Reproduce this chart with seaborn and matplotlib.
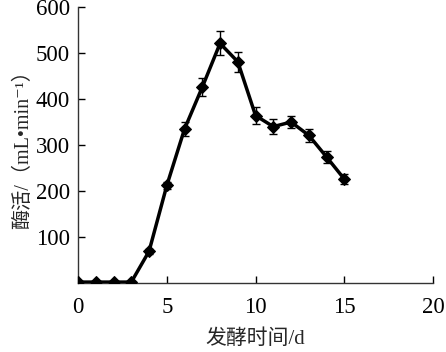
import matplotlib
matplotlib.use("Agg")
import matplotlib.pyplot as plt
import seaborn as sns
import pandas as pd

days = [0, 1, 2, 3, 4, 5, 6, 7, 8, 9, 10, 11, 12, 13, 14, 15]
activity = [2, 2, 2, 2, 69, 212, 335, 426, 521, 481, 364, 340, 350, 321, 274, 226]
errors = [0, 0, 0, 0, 5, 8, 16, 20, 26, 22, 18, 16, 14, 14, 12, 10]
x_ticks = [0, 5, 10, 15, 20]
y_ticks = [100, 200, 300, 400, 500, 600]

sns.set_style("ticks")
plt.rcParams['font.family'] = ['Liberation Serif', 'Noto Sans CJK SC', 'DejaVu Sans']

df = pd.DataFrame({"day": days, "activity": activity, "err": errors})

fig = plt.figure(figsize=(4.46, 3.52), dpi=100)
ax = fig.add_axes([0.175, 0.196, 0.796, 0.784])

ax.errorbar(df["day"], df["activity"], yerr=df["err"], fmt="none",
            ecolor="black", elinewidth=1.0, capsize=3, capthick=1.0, zorder=3)
sns.lineplot(data=df, x="day", y="activity", ax=ax, color="black",
             linewidth=2.5, marker="D", markersize=6.5, markeredgecolor="black",
             zorder=4)

ax.set_xlim(0, 20)
ax.set_ylim(0, 600)
ax.set_xticks(x_ticks)
ax.set_yticks(y_ticks)
ax.tick_params(direction="in", length=5, width=1, labelsize=16.5, colors="black")
ax.tick_params(axis="x", pad=10)
ax.tick_params(axis="y", pad=6)
for s in ["top", "right"]:
    ax.spines[s].set_visible(False)
for s in ["left", "bottom"]:
    ax.spines[s].set_color("#333333")
    ax.spines[s].set_linewidth(1.0)

ax.set_xlabel("发酵时间/d", fontsize=15, labelpad=8)
ax.set_ylabel("酶活/（mL•min⁻¹）", fontsize=14.5, labelpad=2)

fig.savefig("out.png", dpi=100)
